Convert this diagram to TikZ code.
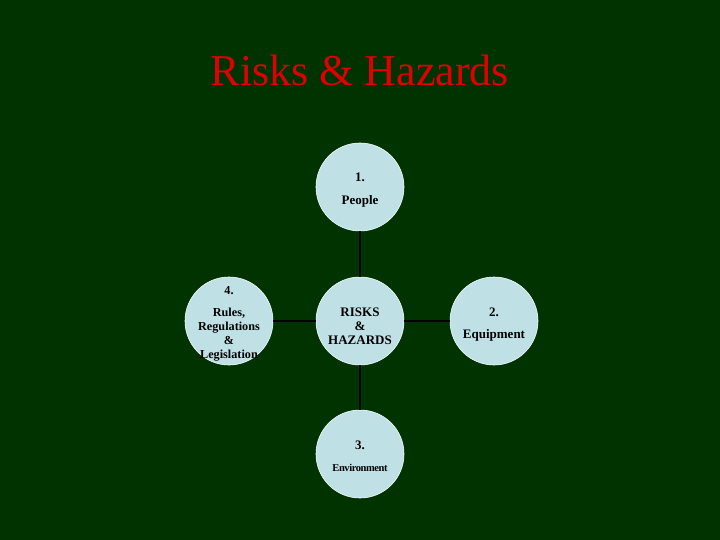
\documentclass[tikz,border=0pt]{standalone}
\usepackage{fontspec}
\setmainfont{Liberation Serif}
\definecolor{bggreen}{HTML}{003300}
\definecolor{circfill}{HTML}{BFE1E6}
\definecolor{titlered}{HTML}{E00000}
\begin{document}
\begin{tikzpicture}[x=1pt,y=-1pt,
  bubble/.style={circle,fill=circfill,draw=white!85!circfill,line width=0.6pt,minimum size=88pt,inner sep=0pt},
  btext/.style={align=center,inner sep=0pt,font=\bfseries\fontsize{13}{14}\selectfont,text=black},
  link/.style={draw=black,line width=2pt}]
\fill[bggreen] (0,0) rectangle (720,540);
\useasboundingbox (0,0) rectangle (720,540);
\node[text=titlered,font=\fontsize{44}{48}\selectfont] (title) at (360,70) {Risks \& Hazards};
\node[bubble] (people) at (360,187) {};
\node[bubble] (center) at (360,321) {};
\node[bubble] (equip) at (494,321) {};
\node[bubble] (env) at (360,454) {};
\node[bubble] (rules) at (229,321) {};
\draw[link] (people) -- (center);
\draw[link] (center) -- (env);
\draw[link] (rules) -- (center);
\draw[link] (center) -- (equip);
\node[btext] (peopletxt) at ([yshift=-3.5pt]people) {1.\\[9pt]People};
\node[btext] (centertxt) at ([yshift=-5pt]center) {RISKS\\\&\\HAZARDS};
\node[btext] (equiptxt) at ([yshift=-4pt]equip) {2.\\[8pt]Equipment};
\node[btext] (envtxt) at ([yshift=-2pt]env) {3.\\[8pt]{\fontsize{10.5}{11}\selectfont\addfontfeature{LetterSpace=-4}Environment}};
\node[btext,font=\bfseries\fontsize{12.2}{14}\selectfont] (rulestxt) at ([yshift=-2.5pt]rules) {4.\\[8pt]Rules,\\Regulations\\\&\\Legislation};
\end{tikzpicture}
\end{document}
